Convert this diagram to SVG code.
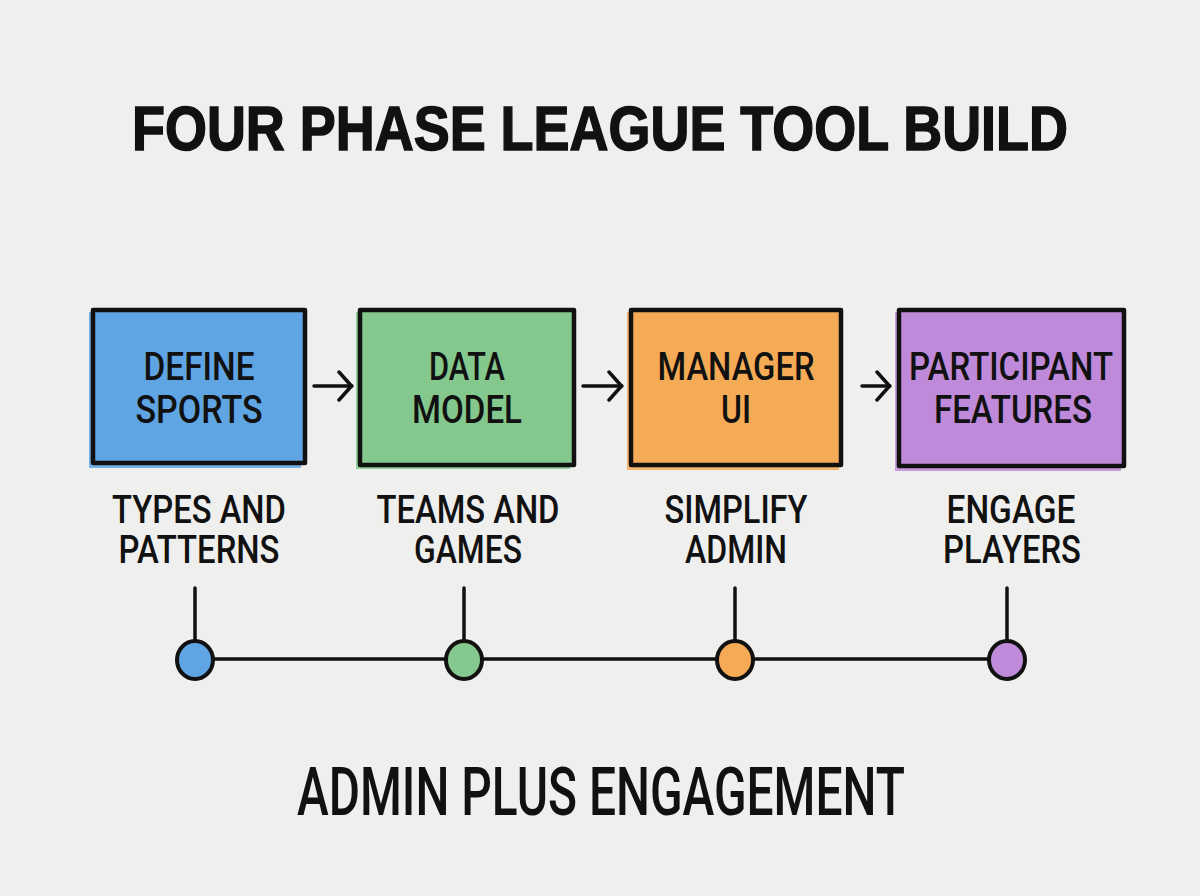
<svg xmlns="http://www.w3.org/2000/svg" width="1200" height="896" viewBox="0 0 1200 896">
<defs>
<style>
.bg{fill:#efefee}
.box{stroke:#111;stroke-width:4.5;stroke-linejoin:round}
.lbl{font-family:Roboto,"Liberation Sans",sans-serif;font-weight:500;fill:#111;text-anchor:middle}
.in{font-size:38px}
.sub{font-size:38px}
.con{stroke:#111;stroke-width:3.5;fill:none;stroke-linecap:round;stroke-linejoin:round}
.dot{stroke:#111;stroke-width:4}
</style>
<marker id="ah" viewBox="0 0 16 32" refX="15" refY="16" markerWidth="16" markerHeight="32" markerUnits="userSpaceOnUse" orient="auto">
<path d="M2 2 L14.5 16 L2 30" fill="none" stroke="#111" stroke-width="3.5" stroke-linecap="round" stroke-linejoin="round"/>
</marker>
</defs>
<rect class="bg" x="0" y="0" width="1200" height="896"/>
<g id="title" transform="translate(600 150) scale(1 1.08)">
<text x="0" y="0" font-family="'Liberation Sans',Arial,sans-serif" font-weight="bold" font-size="58" fill="#111" text-anchor="middle" textLength="936" lengthAdjust="spacingAndGlyphs" stroke="#111" stroke-width="1.4">FOUR PHASE LEAGUE TOOL BUILD</text>
</g>

<g id="connectors">
<line class="con" x1="314" y1="386" x2="352" y2="386" marker-end="url(#ah)"/>
<line class="con" x1="583" y1="386" x2="622" y2="386" marker-end="url(#ah)"/>
<line class="con" x1="862" y1="386" x2="890" y2="386" marker-end="url(#ah)"/>
<line class="con" x1="195" y1="588" x2="195" y2="642"/>
<line class="con" x1="464" y1="588" x2="464" y2="642"/>
<line class="con" x1="735" y1="588" x2="735" y2="642"/>
<line class="con" x1="1007" y1="588" x2="1007" y2="642"/>
<line class="con" x1="212" y1="659" x2="447" y2="659"/>
<line class="con" x1="482" y1="659" x2="717" y2="659"/>
<line class="con" x1="753" y1="659" x2="989" y2="659"/>
</g>

<g id="node-define">
<rect x="89" y="312" width="212" height="156" fill="#5fa4e3" opacity="0.85"/>
<rect class="box" x="93" y="310" width="212" height="153" fill="#5fa4e3"/>
<text class="lbl in" x="199" y="380" textLength="111" lengthAdjust="spacingAndGlyphs">DEFINE</text>
<text class="lbl in" x="199" y="423" textLength="127" lengthAdjust="spacingAndGlyphs">SPORTS</text>
<text class="lbl sub" x="199" y="523" textLength="174" lengthAdjust="spacingAndGlyphs">TYPES AND</text>
<text class="lbl sub" x="199" y="563" textLength="161" lengthAdjust="spacingAndGlyphs">PATTERNS</text>
</g>

<g id="node-data">
<rect x="356" y="312" width="214" height="157" fill="#84c88e" opacity="0.85"/>
<rect class="box" x="360" y="310" width="214" height="155" fill="#84c88e"/>
<text class="lbl in" x="467" y="380" textLength="76" lengthAdjust="spacingAndGlyphs">DATA</text>
<text class="lbl in" x="467" y="423" textLength="110" lengthAdjust="spacingAndGlyphs">MODEL</text>
<text class="lbl sub" x="468" y="523" textLength="183" lengthAdjust="spacingAndGlyphs">TEAMS AND</text>
<text class="lbl sub" x="468" y="563" textLength="108" lengthAdjust="spacingAndGlyphs">GAMES</text>
</g>

<g id="node-manager">
<rect x="627" y="312" width="212" height="158" fill="#f5ab55" opacity="0.85"/>
<rect class="box" x="631" y="310" width="210" height="155" fill="#f5ab55"/>
<text class="lbl in" x="736" y="380" textLength="157" lengthAdjust="spacingAndGlyphs">MANAGER</text>
<text class="lbl in" x="736" y="423" textLength="30" lengthAdjust="spacingAndGlyphs">UI</text>
<text class="lbl sub" x="736" y="523" textLength="143" lengthAdjust="spacingAndGlyphs">SIMPLIFY</text>
<text class="lbl sub" x="736" y="563" textLength="102" lengthAdjust="spacingAndGlyphs">ADMIN</text>
</g>

<g id="node-participant">
<rect x="895" y="312" width="226" height="159" fill="#bf8ad9" opacity="0.85"/>
<rect class="box" x="899" y="310" width="225" height="156" fill="#bf8ad9"/>
<text class="lbl in" x="1011" y="380" textLength="204" lengthAdjust="spacingAndGlyphs">PARTICIPANT</text>
<text class="lbl in" x="1013" y="423" textLength="158" lengthAdjust="spacingAndGlyphs">FEATURES</text>
<text class="lbl sub" x="1011" y="523" textLength="129" lengthAdjust="spacingAndGlyphs">ENGAGE</text>
<text class="lbl sub" x="1012" y="563" textLength="138" lengthAdjust="spacingAndGlyphs">PLAYERS</text>
</g>

<g id="dot-1"><ellipse class="dot" cx="195" cy="660" rx="18" ry="19" fill="#5fa4e3"/></g>
<g id="dot-2"><ellipse class="dot" cx="464" cy="660" rx="18" ry="19" fill="#84c88e"/></g>
<g id="dot-3"><ellipse class="dot" cx="735" cy="660" rx="18" ry="19" fill="#f5ab55"/></g>
<g id="dot-4"><ellipse class="dot" cx="1007" cy="660" rx="18" ry="19" fill="#bf8ad9"/></g>

<text class="lbl" x="601" y="815" font-size="66" font-weight="400" textLength="608" lengthAdjust="spacingAndGlyphs">ADMIN PLUS ENGAGEMENT</text>
</svg>
